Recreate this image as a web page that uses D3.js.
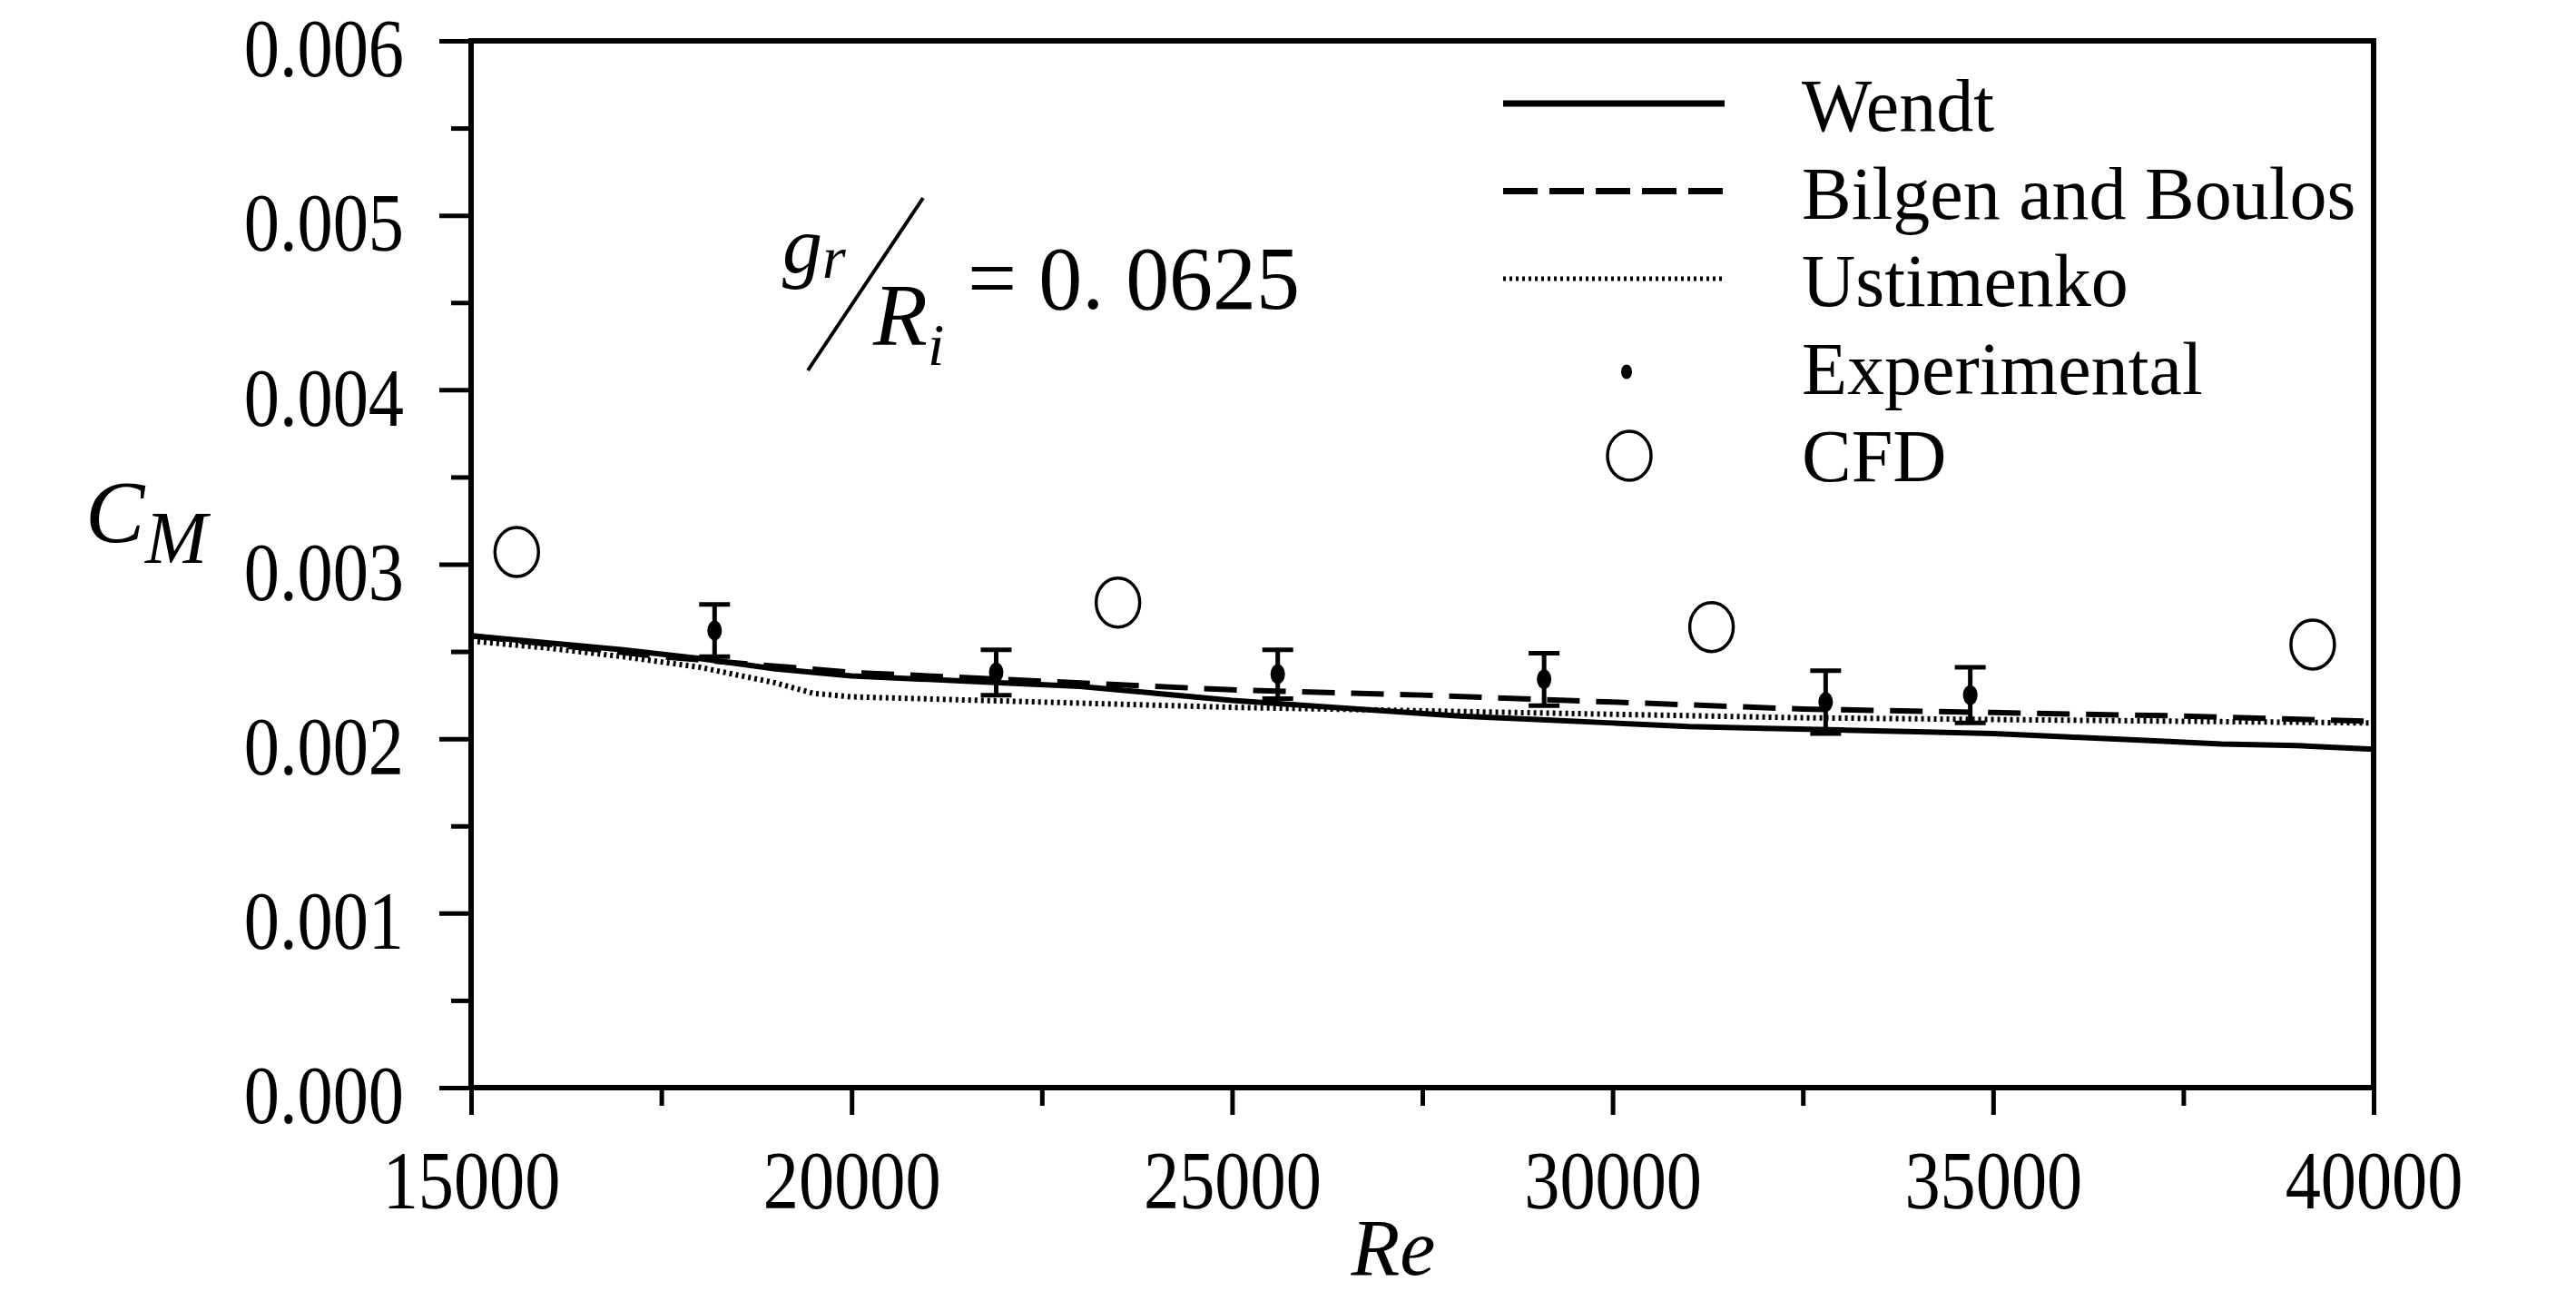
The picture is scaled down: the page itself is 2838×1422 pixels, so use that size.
<!DOCTYPE html>
<html>
<head>
<meta charset="utf-8">
<script src="https://cdn.jsdelivr.net/npm/d3@7"></script>
<style>
  body { margin: 0; background: #fff; }
  svg { display: block; font-family: "Liberation Serif", "Times New Roman", serif; }
</style>
</head>
<body>
<script>
// Re values along each correlation curve, and C_M
const wendtRe = [15000, 16000, 17000, 18000, 19000, 20000, 21000, 22000, 23000, 24000, 25000, 26000, 27000, 28000, 29000, 30000, 31000, 32000, 33000, 34000, 35000, 36000, 37000, 38000, 39000, 40000];
const wendtCm = [0.00259, 0.00255, 0.00251, 0.00246, 0.00240, 0.00236, 0.00234, 0.00232, 0.00230, 0.00226, 0.00222, 0.00219, 0.00216, 0.00213, 0.00211, 0.00209, 0.00207, 0.00206, 0.00205, 0.00204, 0.00203, 0.00201, 0.00199, 0.00197, 0.00196, 0.00194];

const bilgenRe = [15000, 17500, 20000, 22500, 25000, 27500, 30000, 32500, 35000, 37500, 40000];
const bilgenCm = [0.00259, 0.00247, 0.00238, 0.00233, 0.00228, 0.00225, 0.00221, 0.00217, 0.00215, 0.00213, 0.00210];

const ustRe = [15000, 16000, 17000, 18000, 19000, 19500, 20000, 22500, 25000, 27500, 30000, 32500, 35000, 37500, 40000];
const ustCm = [0.00256, 0.00252, 0.00247, 0.00241, 0.00232, 0.00226, 0.00224, 0.00221, 0.00218, 0.00216, 0.00214, 0.00212, 0.00211, 0.00210, 0.00209];

const expRe = [18200, 21900, 25600, 29100, 32800, 34700];
const expCm = [0.00262, 0.00238, 0.00237, 0.00234, 0.00221, 0.00225];
const expErr = [0.00015, 0.00013, 0.00014, 0.00015, 0.00018, 0.00016];

const cfdRe = [15600, 23500, 31300, 39200];
const cfdCm = [0.00307, 0.00278, 0.00264, 0.00254];

const xTicks = [15000, 20000, 25000, 30000, 35000, 40000];
const yTicks = [0.000, 0.001, 0.002, 0.003, 0.004, 0.005, 0.006];

const legendLabels = ["Wendt", "Bilgen and Boulos", "Ustimenko", "Experimental", "CFD"];

const width = 2838, height = 1422;
const margin = {top: 45, right: 223, bottom: 224, left: 519};
const squeeze = 0.87; // the scanned serif type is a little narrow

const svg = d3.select("body").append("svg")
    .attr("width", width)
    .attr("height", height);

const x = d3.scaleLinear([15000, 40000], [margin.left, width - margin.right]);
const y = d3.scaleLinear([0, 0.006], [height - margin.bottom, margin.top]);

const line = d3.line().x(d => x(d[0])).y(d => y(d[1]));

// axes, major and minor ticks
const xAxis = g => g
    .attr("transform", `translate(0,${y(0)})`)
    .call(d3.axisBottom(x).tickValues(xTicks).tickFormat(d3.format("d")).tickSize(30).tickPadding(39))
    .attr("font-family", null)
    .attr("font-size", 90)
    .call(g => g.select(".domain").remove())
    .call(g => g.selectAll(".tick line").attr("stroke-width", 5))
    .call(g => g.selectAll("text").attr("transform", `scale(${squeeze},1)`));

const xMinor = g => g
    .attr("transform", `translate(0,${y(0)})`)
    .call(d3.axisBottom(x).tickValues(d3.range(17500, 40000, 5000)).tickFormat("").tickSize(20))
    .call(g => g.select(".domain").remove())
    .call(g => g.selectAll(".tick line").attr("stroke-width", 5));

const yAxis = g => g
    .attr("transform", `translate(${x(15000)},0)`)
    .call(d3.axisLeft(y).tickValues(yTicks).tickFormat(d3.format(".3f")).tickSize(35))
    .attr("font-family", null)
    .attr("font-size", 90)
    .call(g => g.select(".domain").remove())
    .call(g => g.selectAll(".tick line").attr("stroke-width", 5))
    .call(g => g.selectAll("text")
        .attr("x", -74 / squeeze)
        .attr("dy", "0.43em")
        .attr("transform", `scale(${squeeze},1)`));

const yMinor = g => g
    .attr("transform", `translate(${x(15000)},0)`)
    .call(d3.axisLeft(y).tickValues(d3.range(0.0005, 0.006, 0.001)).tickFormat("").tickSize(22))
    .call(g => g.select(".domain").remove())
    .call(g => g.selectAll(".tick line").attr("stroke-width", 5));

svg.append("g").call(xAxis);
svg.append("g").call(xMinor);
svg.append("g").call(yAxis);
svg.append("g").call(yMinor);

// frame
svg.append("rect")
    .attr("x", x(15000))
    .attr("y", y(0.006))
    .attr("width", x(40000) - x(15000))
    .attr("height", y(0) - y(0.006))
    .attr("fill", "none")
    .attr("stroke", "#000")
    .attr("stroke-width", 6);

// correlation curves
svg.append("path")
    .attr("d", line(d3.zip(ustRe, ustCm)))
    .attr("fill", "none")
    .attr("stroke", "#000")
    .attr("stroke-width", 6)
    .attr("stroke-dasharray", "3,4");

svg.append("path")
    .attr("d", line(d3.zip(bilgenRe, bilgenCm)))
    .attr("fill", "none")
    .attr("stroke", "#000")
    .attr("stroke-width", 6)
    .attr("stroke-dasharray", "36,18");

svg.append("path")
    .attr("d", line(d3.zip(wendtRe, wendtCm)))
    .attr("fill", "none")
    .attr("stroke", "#000")
    .attr("stroke-width", 6);

// experimental points with error bars
const exp = svg.append("g")
  .selectAll("g")
  .data(d3.range(expRe.length))
  .join("g")
    .attr("stroke", "#000")
    .attr("stroke-width", 5);

exp.append("line")
    .attr("x1", i => x(expRe[i]))
    .attr("x2", i => x(expRe[i]))
    .attr("y1", i => y(expCm[i] - expErr[i]))
    .attr("y2", i => y(expCm[i] + expErr[i]));

exp.append("line")
    .attr("x1", i => x(expRe[i]) - 17)
    .attr("x2", i => x(expRe[i]) + 17)
    .attr("y1", i => y(expCm[i] + expErr[i]))
    .attr("y2", i => y(expCm[i] + expErr[i]));

exp.append("line")
    .attr("x1", i => x(expRe[i]) - 17)
    .attr("x2", i => x(expRe[i]) + 17)
    .attr("y1", i => y(expCm[i] - expErr[i]))
    .attr("y2", i => y(expCm[i] - expErr[i]));

exp.append("ellipse")
    .attr("cx", i => x(expRe[i]))
    .attr("cy", i => y(expCm[i]))
    .attr("rx", 8)
    .attr("ry", 11)
    .attr("fill", "#000")
    .attr("stroke", "none");

// CFD
svg.append("g")
  .selectAll("ellipse")
  .data(d3.range(cfdRe.length))
  .join("ellipse")
    .attr("cx", i => x(cfdRe[i]))
    .attr("cy", i => y(cfdCm[i]))
    .attr("rx", 24)
    .attr("ry", 27)
    .attr("fill", "none")
    .attr("stroke", "#000")
    .attr("stroke-width", 3.5);

// legend
const lx0 = 1656, lx1 = 1900, ltx = 1985, ly0 = 114, ldy = 96.5;
const legend = svg.append("g");

legend.append("line")
    .attr("x1", lx0).attr("x2", lx1).attr("y1", ly0).attr("y2", ly0)
    .attr("stroke", "#000").attr("stroke-width", 7);
legend.append("line")
    .attr("x1", lx0).attr("x2", lx1).attr("y1", ly0 + ldy).attr("y2", ly0 + ldy)
    .attr("stroke", "#000").attr("stroke-width", 7).attr("stroke-dasharray", "38,13");
legend.append("line")
    .attr("x1", lx0).attr("x2", lx1).attr("y1", ly0 + 2 * ldy).attr("y2", ly0 + 2 * ldy)
    .attr("stroke", "#000").attr("stroke-width", 5).attr("stroke-dasharray", "3,4");
legend.append("ellipse")
    .attr("cx", 1792).attr("cy", ly0 + 3 * ldy + 6).attr("rx", 6).attr("ry", 8)
    .attr("fill", "#000");
legend.append("ellipse")
    .attr("cx", 1795).attr("cy", ly0 + 4 * ldy + 2).attr("rx", 24).attr("ry", 27)
    .attr("fill", "none").attr("stroke", "#000").attr("stroke-width", 3.5);

legend.selectAll("text")
  .data(legendLabels)
  .join("text")
    .attr("x", ltx)
    .attr("y", (d, i) => ly0 + i * ldy + 30)
    .attr("font-size", 82)
    .text(d => d);

// axis titles
svg.append("text")
    .attr("x", 94)
    .attr("y", 597)
    .attr("font-style", "italic")
    .attr("font-size", 98)
    .text("C");
svg.append("text")
    .attr("x", 160)
    .attr("y", 620)
    .attr("font-style", "italic")
    .attr("font-size", 82)
    .text("M");

svg.append("text")
    .attr("x", 1535)
    .attr("y", 1404)
    .attr("text-anchor", "middle")
    .attr("font-style", "italic")
    .attr("font-size", 88)
    .text("Re");

// gap ratio annotation
const ann = svg.append("g");
const gr = ann.append("text")
    .attr("x", 862)
    .attr("y", 300)
    .attr("font-style", "italic")
    .attr("font-size", 88);
gr.append("tspan").text("g");
gr.append("tspan").attr("dy", 6).attr("font-size", 66).text("r");

ann.append("line")
    .attr("x1", 890).attr("y1", 408)
    .attr("x2", 1017).attr("y2", 218)
    .attr("stroke", "#000").attr("stroke-width", 4);

const ri = ann.append("text")
    .attr("x", 962)
    .attr("y", 380)
    .attr("font-style", "italic")
    .attr("font-size", 98);
ri.append("tspan").text("R");
ri.append("tspan").attr("dy", 22).attr("font-size", 66).text("i");

ann.append("text")
    .attr("x", 1066)
    .attr("y", 340)
    .attr("font-size", 100)
    .attr("transform", "translate(1066,0) scale(0.96,1) translate(-1066,0)")
    .text("= 0. 0625");
</script>
</body>
</html>
